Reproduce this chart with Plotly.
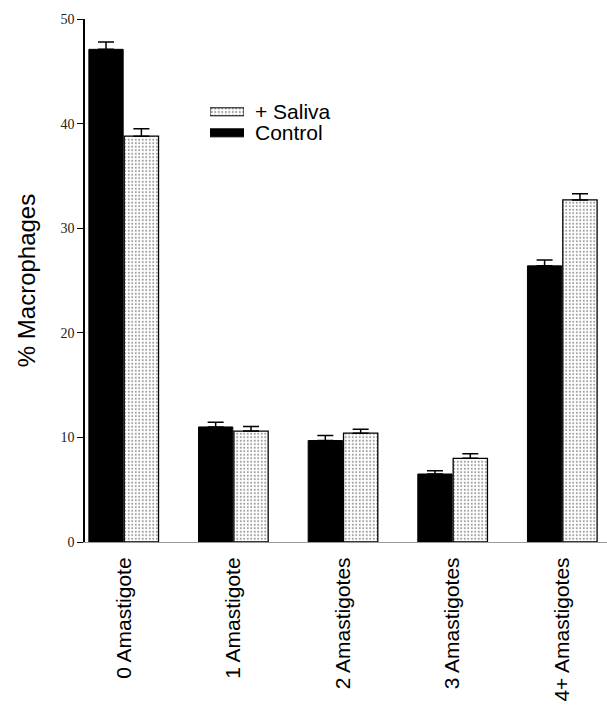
import plotly.graph_objects as go

# Number of intracellular amastigotes per macrophage
categories = ["0 Amastigote", "1 Amastigote", "2 Amastigotes", "3 Amastigotes", "4+ Amastigotes"]
control_pct = [47.1, 11.0, 9.7, 6.5, 26.4]
control_sem = [0.7, 0.45, 0.48, 0.32, 0.55]
saliva_pct = [38.8, 10.6, 10.4, 8.0, 32.7]
saliva_sem = [0.7, 0.45, 0.38, 0.44, 0.6]

y_ticks = [0, 10, 20, 30, 40, 50]
legend_labels = ["+ Saliva", "Control"]

x_pos = list(range(len(categories)))

dot_pattern = dict(shape=".", fgcolor="#333", bgcolor="white", size=3.5, solidity=0.26)
err_style = dict(type="data", symmetric=False, thickness=1.5, width=8, color="black")

fig = go.Figure()
fig.add_trace(go.Bar(
    x=x_pos, y=control_pct, name="Control",
    marker=dict(color="black", line=dict(color="black", width=1)),
    error_y=dict(array=control_sem, arrayminus=[0] * len(control_sem), **err_style),
    showlegend=False,
))
fig.add_trace(go.Bar(
    x=x_pos, y=saliva_pct, name="+ Saliva",
    marker=dict(color="white", pattern=dot_pattern, line=dict(color="black", width=1.3)),
    error_y=dict(array=saliva_sem, arrayminus=[0] * len(saliva_sem), **err_style),
    showlegend=False,
))

# Legend: swatches on a small auxiliary axis pair (unit = one row), labels in paper space
swatch_rows = [0, 1]
fig.add_trace(go.Bar(
    x=[1], y=[swatch_rows[0]], base=[0], orientation="h", width=[0.38],
    marker=dict(color="white", pattern=dot_pattern, line=dict(color="black", width=1)),
    xaxis="x2", yaxis="y2", showlegend=False, hoverinfo="skip",
))
fig.add_trace(go.Bar(
    x=[1], y=[swatch_rows[1]], base=[0], orientation="h", width=[0.38],
    marker=dict(color="black", line=dict(color="black", width=1)),
    xaxis="x2", yaxis="y2", showlegend=False, hoverinfo="skip",
))

label_y = [0.8226, 0.7824]
for yy, label in zip(label_y, legend_labels):
    fig.add_annotation(
        x=0.321, y=yy, xref="paper", yref="paper", text=label, showarrow=False,
        xanchor="left", yanchor="middle",
        font=dict(family="Liberation Sans, Arial, sans-serif", size=21, color="black"),
    )

fig.update_layout(
    width=607, height=705,
    margin=dict(l=85, r=0, t=19, b=163),
    paper_bgcolor="white", plot_bgcolor="white",
    barmode="group", bargap=0.355, bargroupgap=0.03,
    xaxis=dict(
        range=[-0.353, 4.408], tickvals=x_pos, ticktext=categories,
        tickangle=-90, ticks="", showgrid=False, zeroline=False,
        showline=True, linecolor="#9a9a9a", linewidth=1,
        tickfont=dict(family="Liberation Sans, Arial, sans-serif", size=21, color="black"),
        ticklabelstandoff=6,
    ),
    yaxis=dict(
        range=[0, 50], tickvals=y_ticks, ticks="outside", ticklen=6, tickwidth=1.2,
        tickcolor="black", showgrid=False, zeroline=False,
        showline=True, linecolor="black", linewidth=1.5,
        tickfont=dict(family="Liberation Serif, Times New Roman, serif", size=14, color="#222"),
        title=dict(text="% Macrophages", standoff=18,
                   font=dict(family="Liberation Sans, Arial, sans-serif", size=24, color="black")),
    ),
    # row spacing 21 px; domain spans ~42 px around the two rows
    xaxis2=dict(domain=[0.2395, 0.3046], range=[0, 1], visible=False, anchor="y2"),
    yaxis2=dict(domain=[0.7594, 0.8455], range=[1.57, -0.57], visible=False, anchor="x2"),
)

fig.write_html("out.html")
